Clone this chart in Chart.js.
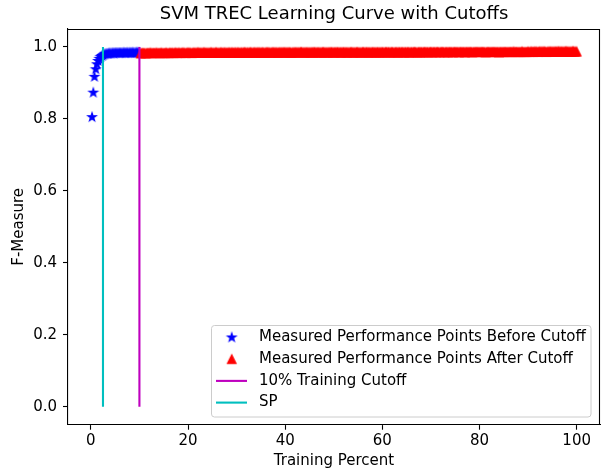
<!DOCTYPE html>
<html>
<head>
<meta charset="utf-8">
<script src="https://cdn.jsdelivr.net/npm/chart.js@4"></script>
<style>
  html, body { margin: 0; padding: 0; background: #fff; }
  canvas { display: block; }
</style>
</head>
<body>
<canvas id="curve" width="601" height="469"></canvas>
<script>
// training percent sampled before the 10% cutoff
const xBefore = [0.25,0.5,0.75,1,1.25,1.5,1.75,2,2.25,2.5,2.75,3,3.25,3.5,3.75,4,4.25,4.5,4.75,5,
  5.25,5.5,5.75,6,6.25,6.5,6.75,7,7.25,7.5,7.75,8,8.25,8.5,8.75,9,9.25,9.5,9.75,10];
const yBefore = [0.805,0.873,0.917,0.938,0.952,0.961,0.967,0.972,0.975,0.977,0.979,0.980,0.981,0.981,0.982,0.982,0.982,0.983,0.982,0.983,
  0.983,0.983,0.983,0.983,0.983,0.983,0.984,0.983,0.983,0.984,0.983,0.984,0.983,0.984,0.984,0.983,0.984,0.984,0.984,0.984];

// training percent sampled after the cutoff
const xAfter = [
  10.25,10.5,10.75,11,11.25,11.5,11.75,12,12.25,12.5,12.75,13,13.25,13.5,13.75,14,14.25,14.5,14.75,15,
  15.25,15.5,15.75,16,16.25,16.5,16.75,17,17.25,17.5,17.75,18,18.25,18.5,18.75,19,19.25,19.5,19.75,20,
  20.25,20.5,20.75,21,21.25,21.5,21.75,22,22.25,22.5,22.75,23,23.25,23.5,23.75,24,24.25,24.5,24.75,25,
  25.25,25.5,25.75,26,26.25,26.5,26.75,27,27.25,27.5,27.75,28,28.25,28.5,28.75,29,29.25,29.5,29.75,30,
  30.25,30.5,30.75,31,31.25,31.5,31.75,32,32.25,32.5,32.75,33,33.25,33.5,33.75,34,34.25,34.5,34.75,35,
  35.25,35.5,35.75,36,36.25,36.5,36.75,37,37.25,37.5,37.75,38,38.25,38.5,38.75,39,39.25,39.5,39.75,40,
  40.25,40.5,40.75,41,41.25,41.5,41.75,42,42.25,42.5,42.75,43,43.25,43.5,43.75,44,44.25,44.5,44.75,45,
  45.25,45.5,45.75,46,46.25,46.5,46.75,47,47.25,47.5,47.75,48,48.25,48.5,48.75,49,49.25,49.5,49.75,50,
  50.25,50.5,50.75,51,51.25,51.5,51.75,52,52.25,52.5,52.75,53,53.25,53.5,53.75,54,54.25,54.5,54.75,55,
  55.25,55.5,55.75,56,56.25,56.5,56.75,57,57.25,57.5,57.75,58,58.25,58.5,58.75,59,59.25,59.5,59.75,60,
  60.25,60.5,60.75,61,61.25,61.5,61.75,62,62.25,62.5,62.75,63,63.25,63.5,63.75,64,64.25,64.5,64.75,65,
  65.25,65.5,65.75,66,66.25,66.5,66.75,67,67.25,67.5,67.75,68,68.25,68.5,68.75,69,69.25,69.5,69.75,70,
  70.25,70.5,70.75,71,71.25,71.5,71.75,72,72.25,72.5,72.75,73,73.25,73.5,73.75,74,74.25,74.5,74.75,75,
  75.25,75.5,75.75,76,76.25,76.5,76.75,77,77.25,77.5,77.75,78,78.25,78.5,78.75,79,79.25,79.5,79.75,80,
  80.25,80.5,80.75,81,81.25,81.5,81.75,82,82.25,82.5,82.75,83,83.25,83.5,83.75,84,84.25,84.5,84.75,85,
  85.25,85.5,85.75,86,86.25,86.5,86.75,87,87.25,87.5,87.75,88,88.25,88.5,88.75,89,89.25,89.5,89.75,90,
  90.25,90.5,90.75,91,91.25,91.5,91.75,92,92.25,92.5,92.75,93,93.25,93.5,93.75,94,94.25,94.5,94.75,95,
  95.25,95.5,95.75,96,96.25,96.5,96.75,97,97.25,97.5,97.75,98,98.25,98.5,98.75,99,99.25,99.5,99.75,100];
const yAfter = [
  0.982,0.983,0.983,0.983,0.982,0.983,0.983,0.983,0.984,0.983,0.983,0.983,0.983,0.984,0.983,0.983,0.983,0.984,0.983,0.983,
  0.983,0.984,0.983,0.983,0.984,0.983,0.984,0.983,0.984,0.984,0.983,0.984,0.984,0.983,0.984,0.984,0.984,0.983,0.984,0.984,
  0.984,0.984,0.983,0.984,0.984,0.984,0.984,0.985,0.984,0.984,0.984,0.984,0.985,0.984,0.984,0.984,0.984,0.984,0.985,0.984,
  0.984,0.984,0.985,0.984,0.984,0.984,0.985,0.984,0.984,0.985,0.984,0.984,0.984,0.985,0.984,0.985,0.984,0.984,0.985,0.984,
  0.985,0.984,0.984,0.985,0.984,0.985,0.985,0.984,0.985,0.984,0.985,0.985,0.984,0.985,0.985,0.984,0.985,0.985,0.985,0.984,
  0.985,0.985,0.984,0.985,0.985,0.985,0.985,0.984,0.985,0.985,0.985,0.985,0.985,0.984,0.985,0.985,0.985,0.985,0.985,0.985,
  0.985,0.985,0.985,0.985,0.984,0.985,0.985,0.985,0.985,0.985,0.985,0.985,0.986,0.985,0.985,0.985,0.985,0.985,0.985,0.985,
  0.985,0.985,0.985,0.986,0.985,0.985,0.985,0.985,0.985,0.985,0.986,0.985,0.985,0.985,0.985,0.985,0.985,0.986,0.985,0.985,
  0.985,0.985,0.986,0.985,0.985,0.985,0.985,0.986,0.985,0.985,0.985,0.985,0.985,0.986,0.985,0.985,0.985,0.985,0.986,0.985,
  0.985,0.985,0.985,0.986,0.985,0.985,0.986,0.985,0.985,0.985,0.985,0.986,0.985,0.985,0.985,0.986,0.985,0.985,0.985,0.986,
  0.985,0.985,0.986,0.985,0.986,0.985,0.985,0.986,0.985,0.985,0.986,0.985,0.985,0.986,0.985,0.986,0.985,0.985,0.986,0.985,
  0.986,0.985,0.985,0.986,0.985,0.986,0.986,0.985,0.985,0.986,0.985,0.986,0.985,0.986,0.986,0.985,0.986,0.985,0.986,0.986,
  0.985,0.986,0.986,0.985,0.986,0.986,0.985,0.986,0.986,0.986,0.985,0.986,0.986,0.985,0.986,0.986,0.986,0.985,0.986,0.986,
  0.986,0.986,0.985,0.986,0.986,0.986,0.986,0.985,0.986,0.986,0.986,0.986,0.986,0.985,0.986,0.986,0.986,0.986,0.986,0.986,
  0.986,0.986,0.986,0.986,0.985,0.986,0.986,0.986,0.986,0.986,0.986,0.986,0.986,0.986,0.986,0.985,0.986,0.986,0.986,0.986,
  0.986,0.986,0.986,0.986,0.986,0.986,0.986,0.987,0.986,0.986,0.986,0.986,0.986,0.986,0.987,0.986,0.986,0.986,0.986,0.987,
  0.986,0.987,0.987,0.986,0.987,0.987,0.987,0.986,0.987,0.987,0.987,0.987,0.987,0.987,0.986,0.987,0.987,0.987,0.987,0.987,
  0.987,0.987,0.987,0.987,0.988,0.987,0.987,0.987,0.987,0.987,0.988,0.987,0.987,0.987,0.987,0.987,0.988,0.987,0.987,0.987];

// vertical cutoff lines
const cutoffX = 10;
const spX = 2.5;

const xTicks = [0, 20, 40, 60, 80, 100];
const yTicks = [0.0, 0.2, 0.4, 0.6, 0.8, 1.0];

const FONT = "'DejaVu Sans', sans-serif";
Chart.defaults.font.family = FONT;
Chart.defaults.color = "#000";

// filled 5 point star like matplotlib's '*'
function makeStar(color) {
    const c = document.createElement("canvas");
    c.width = 14; c.height = 14;
    const g = c.getContext("2d");
    const r = 4.2, ri = r * 0.382;
    g.beginPath();
    for (let i = 0; i < 10; i++) {
        const a = -Math.PI / 2 + i * Math.PI / 5;
        const rr = i % 2 ? ri : r;
        g.lineTo(7 + rr * Math.cos(a), 7 + rr * Math.sin(a));
    }
    g.closePath();
    g.fillStyle = color; g.strokeStyle = color; g.lineWidth = 1.3;
    g.fill(); g.stroke();
    return c;
}

// filled triangle like matplotlib's '^'
function makeTriangle(color) {
    const c = document.createElement("canvas");
    c.width = 14; c.height = 14;
    const g = c.getContext("2d");
    const h = 4.2;
    g.beginPath();
    g.moveTo(7, 7 - h);
    g.lineTo(7 - h, 7 + h);
    g.lineTo(7 + h, 7 + h);
    g.closePath();
    g.fillStyle = color; g.strokeStyle = color; g.lineWidth = 1.3;
    g.fill(); g.stroke();
    return c;
}

const starImg = makeStar("#0000ff");
const triImg = makeTriangle("#ff0000");

const toPoints = (xs, ys) => xs.map((x, i) => ({ x: x, y: ys[i] }));

// title, top/right spines and boxed legend, drawn matplotlib style
const framePlugin = {
    id: "frame",
    afterDraw(chart) {
        const ctx = chart.ctx;
        const a = chart.chartArea;
        ctx.save();
        ctx.strokeStyle = "#000";
        ctx.lineWidth = 1.1;
        ctx.beginPath();
        ctx.moveTo(a.left, a.top + 0.5);
        ctx.lineTo(a.right - 0.5, a.top + 0.5);
        ctx.lineTo(a.right - 0.5, a.bottom);
        ctx.stroke();

        ctx.fillStyle = "#000";
        ctx.font = "18px " + FONT;
        ctx.textAlign = "center";
        ctx.textBaseline = "middle";
        ctx.fillText("SVM TREC Learning Curve with Cutoffs", (a.left + a.right) / 2, 14.5);

        // legend box
        const bx = 211.5, by = 325.5, bw = 379.5, bh = 91.5;
        ctx.beginPath();
        ctx.roundRect(bx, by, bw, bh, 3);
        ctx.fillStyle = "rgba(255,255,255,0.8)";
        ctx.fill();
        ctx.strokeStyle = "#cccccc";
        ctx.lineWidth = 1;
        ctx.stroke();

        ctx.font = "15px " + FONT;
        ctx.textAlign = "left";
        const rows = [chart.data.datasets[0], chart.data.datasets[1], chart.data.datasets[2], chart.data.datasets[3]];
        rows.forEach((ds, i) => {
            const y = 337.5 + i * 21.7;
            if (ds.showLine) {
                ctx.strokeStyle = ds.borderColor;
                ctx.lineWidth = ds.borderWidth;
                ctx.beginPath();
                ctx.moveTo(216, y);
                ctx.lineTo(247, y);
                ctx.stroke();
            } else {
                const img = ds.pointStyle;
                ctx.drawImage(img, 231.7 - img.width / 2, y - img.height / 2);
            }
            ctx.fillStyle = "#000";
            ctx.fillText(ds.label, 259, y);
        });
        ctx.restore();
    }
};

const tickFont = { family: FONT, size: 15 };

new Chart(document.getElementById("curve"), {
    type: "scatter",
    data: {
        datasets: [{
            label: "Measured Performance Points Before Cutoff",
            data: toPoints(xBefore, yBefore),
            pointStyle: starImg,
            pointRadius: 4,
            order: 4
        }, {
            label: "Measured Performance Points After Cutoff",
            data: toPoints(xAfter, yAfter),
            pointStyle: triImg,
            pointRadius: 4,
            order: 3
        }, {
            label: "10% Training Cutoff",
            data: [{ x: cutoffX, y: 0 }, { x: cutoffX, y: 1 }],
            showLine: true,
            borderColor: "#bf00bf",
            borderWidth: 2.1,
            pointRadius: 0,
            order: 2
        }, {
            label: "SP",
            data: [{ x: spX, y: 0 }, { x: spX, y: 1 }],
            showLine: true,
            borderColor: "#00bfbf",
            borderWidth: 2.1,
            pointRadius: 0,
            order: 1
        }]
    },
    options: {
        responsive: false,
        animation: false,
        events: [],
        devicePixelRatio: 1,
        layout: { autoPadding: false, padding: { top: 29, right: 1, left: 0, bottom: 0 } },
        plugins: {
            legend: { display: false },
            tooltip: { enabled: false },
            title: { display: false }
        },
        scales: {
            x: {
                type: "linear",
                min: -4.7,
                max: 104.8,
                afterFit: s => { s.height = 44.3; s.paddingLeft = 0; s.paddingRight = 0; },
                afterBuildTicks: s => { s.ticks = xTicks.map(v => ({ value: v })); },
                ticks: { color: "#000", font: tickFont, padding: 2, maxRotation: 0, autoSkip: false,
                         callback: v => String(v) },
                grid: { drawOnChartArea: false, drawTicks: true, tickLength: 5, tickColor: "#000", tickWidth: 1.1 },
                border: { display: true, color: "#000", width: 1.1 },
                title: { display: true, text: "Training Percent", color: "#000",
                         font: { family: FONT, size: 15, lineHeight: 1 }, padding: 0 }
            },
            y: {
                type: "linear",
                min: -0.05,
                max: 1.05,
                afterFit: s => { s.width = 68; s.paddingTop = 0; s.paddingBottom = 0; },
                afterBuildTicks: s => { s.ticks = yTicks.map(v => ({ value: v })); },
                ticks: { color: "#000", font: tickFont, padding: 6, autoSkip: false,
                         callback: v => v.toFixed(1) },
                grid: { drawOnChartArea: false, drawTicks: true, tickLength: 5, tickColor: "#000", tickWidth: 1.1 },
                border: { display: true, color: "#000", width: 1.1 },
                title: { display: true, text: "F-Measure", color: "#000",
                         font: { family: FONT, size: 15, lineHeight: 1 }, padding: { top: 11.5, bottom: 0 } }
            }
        }
    },
    plugins: [framePlugin]
});
</script>
</body>
</html>
